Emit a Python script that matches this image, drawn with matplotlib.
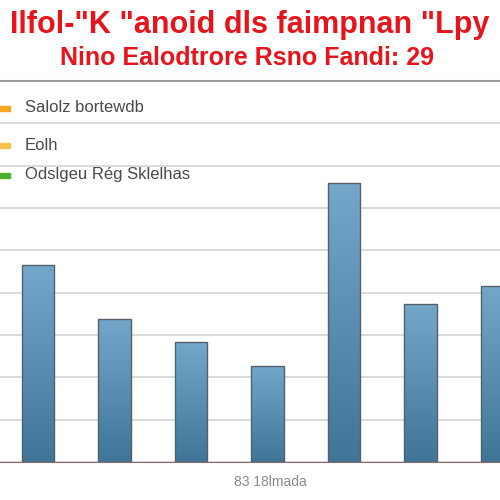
import numpy as np
import matplotlib.pyplot as plt
from matplotlib.patches import Rectangle

plt.rcParams['font.family'] = ['Liberation Sans', 'DejaVu Sans']

# Values
values = [46.5, 33.8, 28.3, 22.7, 65.9, 37.3, 41.6]
title_lines = ['Ilfol-"K "anoid dls faimpnan "Lpy', 'Nino Ealodtrore Rsno Fandi: 29']
legend_labels = ['Salolz bortewdb', 'Eolh', 'Odslgeu Rég Sklelhas']
legend_colors = ['#f5a623', '#f7c04a', '#4caf2a']
xlabel = '83 18lmada'

fig = plt.figure(figsize=(5, 5), dpi=100)
fig.patch.set_facecolor('white')

ax = fig.add_axes([0, 0.076, 1, 0.762])
x = np.arange(len(values))
bars = ax.bar(x, values, width=0.42, color='#5a8fb3', edgecolor='#55606a', linewidth=1.0, zorder=3)

# vertical gradient inside each bar, light at top
grad = np.linspace(0, 1, 256).reshape(-1, 1)
cmap = plt.matplotlib.colors.LinearSegmentedColormap.from_list('b', ['#3f7596', '#74a8cb'])
for b in bars:
    im = ax.imshow(grad, cmap=cmap, origin='lower', aspect='auto', zorder=2.9,
                   extent=[b.get_x(), b.get_x() + b.get_width(), 0, b.get_height()])
    im.set_clip_path(b)
    b.set_facecolor('none')

ax.set_xlim(-0.497, 6.04)
ax.set_ylim(0, 90)
ax.set_yticks(np.arange(0, 91, 10))
ax.grid(axis='y', color='#d4d4d4', linewidth=1.2, zorder=0)
ax.set_xticks([])
ax.tick_params(left=False, labelleft=False)
for s in ['left', 'right']:
    ax.spines[s].set_visible(False)
ax.spines['top'].set_color('#9a9a9a')
ax.spines['top'].set_linewidth(1.5)
ax.spines['bottom'].set_color('#8a6a6a')
ax.set_facecolor('white')

fig.text(0.5, 0.95, title_lines[0], color='#e8141c', fontsize=22, fontweight='bold',
         ha='center', va='center')
fig.text(0.495, 0.884, title_lines[1], color='#e8141c', fontsize=18, fontweight='bold',
         ha='center', va='center')

leg_y = [0.784, 0.71, 0.65]
for lbl, col, yy in zip(legend_labels, legend_colors, leg_y):
    fig.patches.append(Rectangle((0.0, yy - 0.005), 0.02, 0.01, color=col,
                                 transform=fig.transFigure, figure=fig))
    fig.text(0.05, yy, lbl, color='#4a4a4a', fontsize=12, ha='left', va='center')

fig.text(0.54, 0.036, xlabel, color='#8a8a8a', fontsize=10, ha='center', va='center')

fig.savefig('out.png', dpi=100)
